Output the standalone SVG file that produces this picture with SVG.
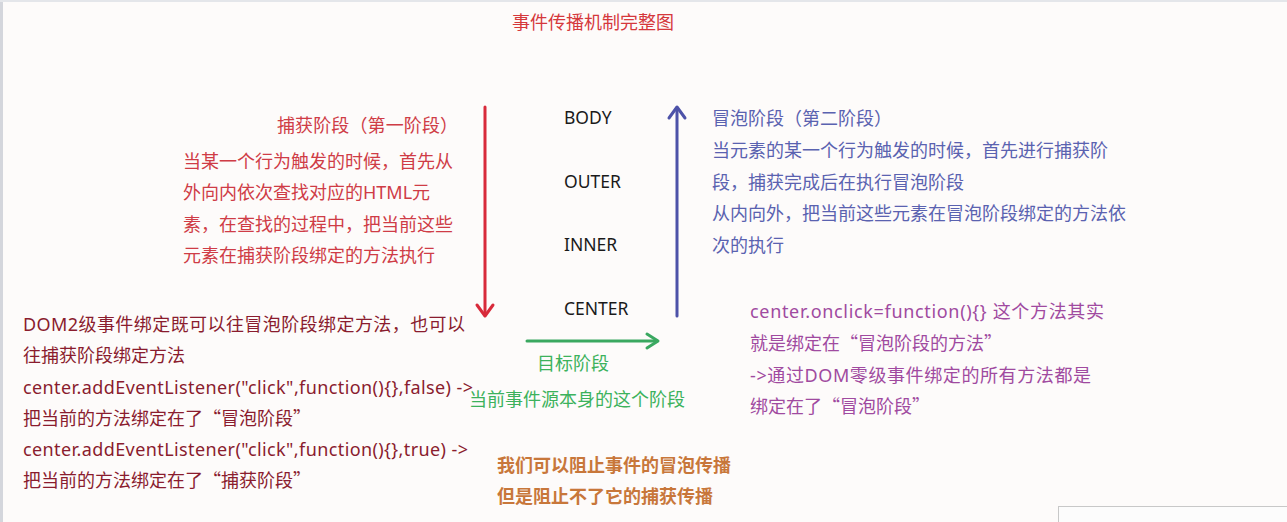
<svg xmlns="http://www.w3.org/2000/svg" width="1287" height="522" viewBox="0 0 1287 522">
<style>
text{font-family:"Noto Sans","Noto Sans CJK SC",sans-serif;font-size:18px}
.q{font-family:"Noto Sans CJK SC",sans-serif}
.t{fill:#d5383c}
.cap{fill:#cf3c46}
.bub{fill:#5a62b0}
.node{fill:#1a1a1a;font-size:17.5px}
.dom{fill:#8a1c2e}
.tgt{fill:#3cb25c}
.pur{fill:#a04aa0}
.stop{fill:#c8773a;font-weight:bold;font-size:18.8px}
.arr{fill:none;stroke-width:3;stroke-linecap:round;stroke-linejoin:round}
</style>
<rect width="1287" height="522" fill="#fdfbfa"/>
<rect x="0" y="0" width="3" height="522" fill="#d4d6dc"/>
<rect x="0" y="0" width="1287" height="2" fill="#e4e6ea"/>
<text class="t" x="512" y="29">事件传播机制完整图</text>

<g id="connectors">
<g id="capture-arrow" stroke="#d82a3a" class="arr">
<path d="M485 107 V315"/>
<path d="M477 305 L485 316 L493 305"/>
</g>
<g id="bubble-arrow" stroke="#4d52a8" class="arr">
<path d="M677 316 V108"/>
<path d="M669 118 L677 107 L685 118"/>
</g>
<g id="target-arrow" stroke="#3aa860" class="arr">
<path d="M527 341 H657"/>
<path d="M647 334 L658 341 L647 348"/>
</g>
</g>

<g id="node-body"><text class="node" x="564" y="124">BODY</text></g>
<g id="node-outer"><text class="node" x="564" y="188">OUTER</text></g>
<g id="node-inner"><text class="node" x="564" y="251">INNER</text></g>
<g id="node-center"><text class="node" x="564" y="315">CENTER</text></g>

<g id="capture-text" class="cap">
<text x="277" y="132" textLength="181">捕获阶段（第一阶段）</text>
<text x="183" y="168">当某一个行为触发的时候，首先从</text>
<text x="183" y="199">外向内依次查找对应的HTML元</text>
<text x="183" y="231">素，在查找的过程中，把当前这些</text>
<text x="183" y="262">元素在捕获阶段绑定的方法执行</text>
</g>

<g id="bubble-text" class="bub">
<text x="712" y="125">冒泡阶段（第二阶段）</text>
<text x="712" y="157">当元素的某一个行为触发的时候，首先进行捕获阶</text>
<text x="712" y="189">段，捕获完成后在执行冒泡阶段</text>
<text x="712" y="220">从内向外，把当前这些元素在冒泡阶段绑定的方法依</text>
<text x="712" y="252">次的执行</text>
</g>

<g id="dom2-text" class="dom">
<text x="23" y="331" textLength="442">DOM2级事件绑定既可以往冒泡阶段绑定方法，也可以</text>
<text x="23" y="362">往捕获阶段绑定方法</text>
<text x="23" y="394" textLength="450">center.addEventListener("click",function(){},false) -&gt;</text>
<text x="23" y="425">把当前的方法绑定在了<tspan class="q">“冒泡阶段”</tspan></text>
<text x="23" y="456" textLength="445">center.addEventListener("click",function(){},true) -&gt;</text>
<text x="23" y="487">把当前的方法绑定在了<tspan class="q">“捕获阶段”</tspan></text>
</g>

<g id="target-text" class="tgt">
<text x="537" y="370">目标阶段</text>
<text x="469" y="406">当前事件源本身的这个阶段</text>
</g>

<g id="dom0-text" class="pur">
<text x="750" y="318" textLength="354">center.onclick=function(){}  这个方法其实</text>
<text x="750" y="350">就是绑定在<tspan class="q">“冒泡阶段的方法”</tspan></text>
<text x="750" y="382" textLength="341">-&gt;通过DOM零级事件绑定的所有方法都是</text>
<text x="750" y="413">绑定在了<tspan class="q">“冒泡阶段”</tspan></text>
</g>

<g id="stop-text" class="stop">
<text x="497" y="472">我们可以阻止事件的冒泡传播</text>
<text x="497" y="503">但是阻止不了它的捕获传播</text>
</g>

<rect x="1058.5" y="506.5" width="240" height="20" fill="#fcfcfc" stroke="#c8c8c8"/>
</svg>
